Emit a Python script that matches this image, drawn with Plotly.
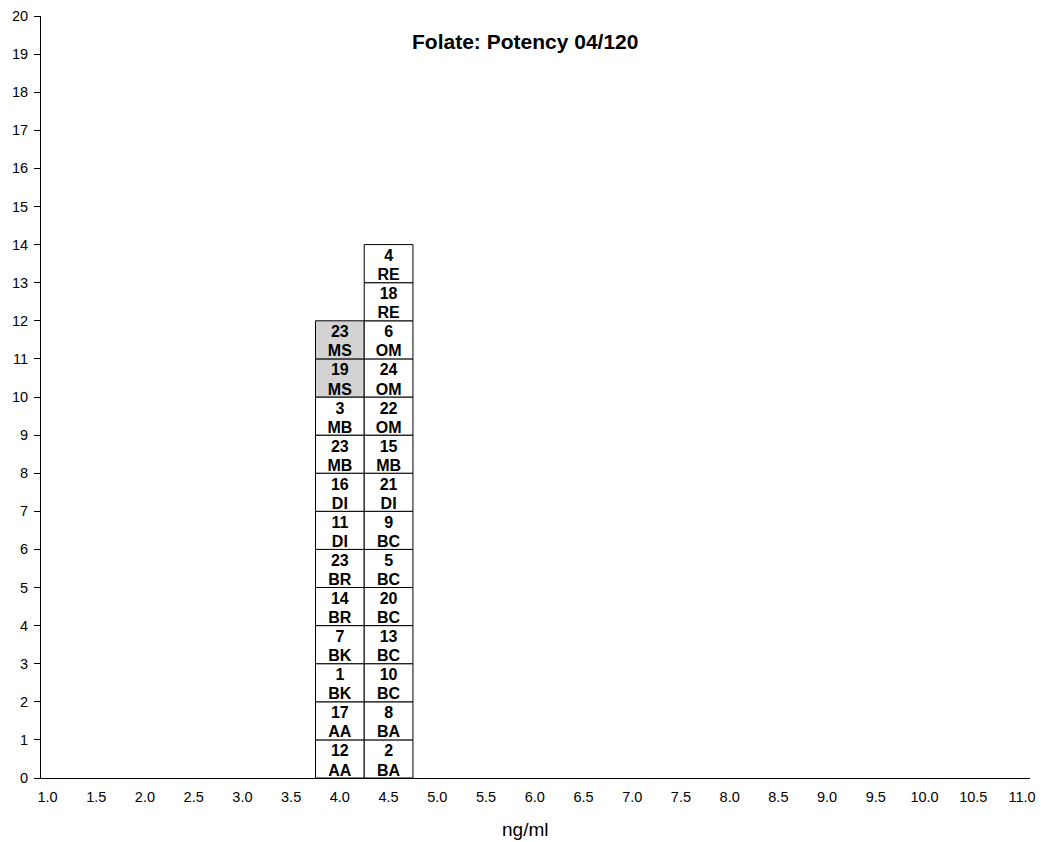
import plotly.graph_objects as go

title = "Folate: Potency 04/120"
x_title = "ng/ml"

col1_x = 4.0
col1_ids = ["12", "17", "1", "7", "14", "23", "11", "16", "23", "3", "19", "23"]
col1_codes = ["AA", "AA", "BK", "BK", "BR", "BR", "DI", "DI", "MB", "MB", "MS", "MS"]
col1_highlight = [False] * 10 + [True, True]

col2_x = 4.5
col2_ids = ["2", "8", "10", "13", "20", "5", "9", "21", "15", "22", "24", "6", "18", "4"]
col2_codes = ["BA", "BA", "BC", "BC", "BC", "BC", "BC", "DI", "MB", "OM", "OM", "OM", "RE", "RE"]
col2_highlight = [False] * 14

x_ticks = [1.0 + 0.5 * i for i in range(21)]
y_ticks = list(range(0, 21))

FONT = "Liberation Sans, Arial, sans-serif"
X_RANGE = [0.9333, 11.082]

fig = go.Figure()

for cx, ids, codes, hl in [(col1_x, col1_ids, col1_codes, col1_highlight),
                            (col2_x, col2_ids, col2_codes, col2_highlight)]:
    n = len(ids)
    fig.add_trace(go.Bar(
        x=[cx] * n, y=[1] * n, base=list(range(n)), width=0.5,
        marker=dict(color=["#d3d3d3" if h else "white" for h in hl],
                    line=dict(color="black", width=1)),
        hoverinfo="skip", showlegend=False,
    ))
    fig.add_trace(go.Scatter(
        x=[cx] * n, y=[i + 0.67 for i in range(n)], mode="text",
        text=[f"<b>{a}</b>" for a in ids],
        textposition="middle center",
        textfont=dict(family=FONT, size=16, color="black"),
        hoverinfo="skip", showlegend=False,
    ))
    fig.add_trace(go.Scatter(
        x=[cx] * n, y=[i + 0.17 for i in range(n)], mode="text",
        text=[f"<b>{b}</b>" for b in codes],
        textposition="middle center",
        textfont=dict(family=FONT, size=16, color="black"),
        hoverinfo="skip", showlegend=False,
    ))

fig.update_layout(
    width=1041, height=842,
    margin=dict(l=41, r=11, t=16, b=64),
    paper_bgcolor="white", plot_bgcolor="white",
    barmode="overlay",
    font=dict(family=FONT, size=14.5, color="black"),
    annotations=[
        dict(text=f"<b>{title}</b>", x=0.489, y=0.966, xref="paper", yref="paper",
             showarrow=False, xanchor="center", yanchor="middle",
             font=dict(family=FONT, size=21, color="black")),
        dict(text=x_title, x=(5.9 - X_RANGE[0]) / (X_RANGE[1] - X_RANGE[0]), y=0,
             xref="paper", yref="paper",
             yshift=-51, showarrow=False, xanchor="center", yanchor="middle",
             font=dict(family=FONT, size=19, color="black")),
    ],
)
fig.update_xaxes(
    range=X_RANGE, tickvals=x_ticks, ticktext=[f"{v:.1f}" for v in x_ticks],
    showline=True, linecolor="black", linewidth=1, ticks="", showgrid=False, zeroline=False,
    tickfont=dict(size=14.5), automargin=False, ticklabelstandoff=6, ticklabeloverflow="allow",
)
fig.update_yaxes(
    range=[0, 20], tickvals=y_ticks, showline=True, linecolor="black", linewidth=1,
    ticks="outside", ticklen=6, tickcolor="black", showgrid=False, zeroline=False,
    tickfont=dict(size=14.5), automargin=False, ticklabelstandoff=3,
)

fig.write_html("out.html", config={"displayModeBar": False},
               post_script="document.body.style.margin='0px';")
